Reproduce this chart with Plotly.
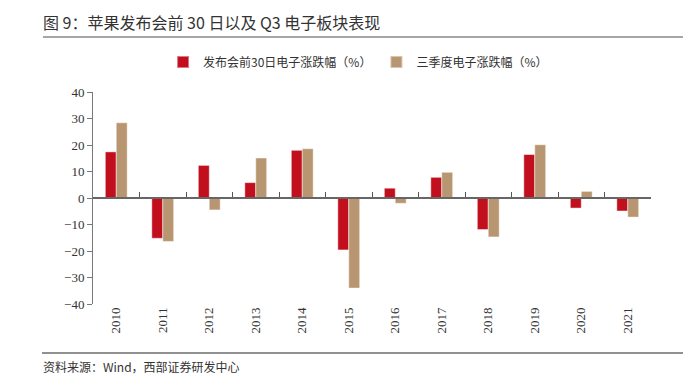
import plotly.graph_objects as go

years = ["2010", "2011", "2012", "2013", "2014", "2015", "2016", "2017", "2018", "2019", "2020", "2021"]
pre_event = [17.4, -15.2, 12.3, 5.8, 18.0, -19.6, 3.7, 7.8, -11.9, 16.4, -3.8, -4.9]
q3_change = [28.4, -16.4, -4.5, 15.1, 18.6, -34.0, -2.0, 9.7, -14.7, 20.1, 2.5, -7.2]
series_names = ["发布会前30日电子涨跌幅（%）", "三季度电子涨跌幅（%）"]
y_ticks = [-40, -30, -20, -10, 0, 10, 20, 30, 40]

RED = "#C20F1E"
TAN = "#B99672"
CJK = "Noto Sans CJK SC"
SERIF = "Liberation Serif, Times New Roman, serif"

W, H = 698, 376
L, R, T, B = 93, 47, 92, 72
pw, ph = W - L - R, H - T - B


def px_x(px):
    return (px - L) / pw


def px_y(py):
    return (H - B - py) / ph


fig = go.Figure()
fig.add_trace(go.Bar(x=years, y=pre_event, name=series_names[0],
                     marker=dict(color=RED, line=dict(color="rgba(255,255,255,0.45)", width=1))))
fig.add_trace(go.Bar(x=years, y=q3_change, name=series_names[1],
                     marker=dict(color=TAN, line=dict(color="rgba(255,255,255,0.45)", width=1))))
# invisible helper trace for the zero-line axis
fig.add_trace(go.Scatter(x=years, y=[0] * len(years), xaxis="x2", mode="none",
                         showlegend=False, hoverinfo="skip"))

fig.update_layout(
    width=W, height=H,
    margin=dict(l=L, r=R, t=T, b=B, autoexpand=False),
    paper_bgcolor="white", plot_bgcolor="white",
    barmode="group", bargap=0.53, bargroupgap=0.0,
    showlegend=True,
    legend=dict(orientation="h", x=0.475, xanchor="center", y=px_y(62), yanchor="middle",
                font=dict(family=CJK, size=12, color="#333333"),
                itemwidth=30, tracegroupgap=0, itemsizing="constant"),
    xaxis=dict(type="category", showline=False, ticks="", showgrid=False,
               tickangle=-90, tickfont=dict(family=SERIF, size=13, color="#333333"),
               zeroline=False),
    xaxis2=dict(type="category", overlaying="x", matches="x", anchor="free",
                position=px_y(198), showline=True, linecolor="#666666", linewidth=1.5,
                ticks="inside", tickson="boundaries", ticklen=5, tickcolor="#555555",
                showticklabels=False, showgrid=False, zeroline=False),
    yaxis=dict(range=[-40, 40], tickvals=y_ticks, showline=True, linecolor="#777777",
               linewidth=1, ticks="outside", ticklen=5, tickcolor="#777777",
               showgrid=False, zeroline=False,
               tickfont=dict(family=SERIF, size=13, color="#333333")),
)

fig.add_annotation(xref="paper", yref="paper", x=px_x(41), y=px_y(22),
                   xanchor="left", yanchor="middle", showarrow=False,
                   text="图 9：苹果发布会前 30 日以及 Q3 电子板块表现",
                   font=dict(family=CJK, size=16, color="#333333"))
fig.add_shape(type="line", xref="paper", yref="paper", x0=px_x(43), x1=px_x(683),
              y0=px_y(37), y1=px_y(37), line=dict(color="#888888", width=1.5))
fig.add_shape(type="line", xref="paper", yref="paper", x0=px_x(42), x1=px_x(683),
              y0=px_y(353), y1=px_y(353), line=dict(color="#222222", width=1.2))
fig.add_annotation(xref="paper", yref="paper", x=px_x(41), y=px_y(366),
                   xanchor="left", yanchor="middle", showarrow=False,
                   text="资料来源：Wind，西部证券研发中心",
                   font=dict(family=CJK, size=12, color="#333333"))

fig.write_html("out.html", config={"displayModeBar": False},
               post_script="document.body.style.margin='0';document.body.style.overflow='hidden';")
